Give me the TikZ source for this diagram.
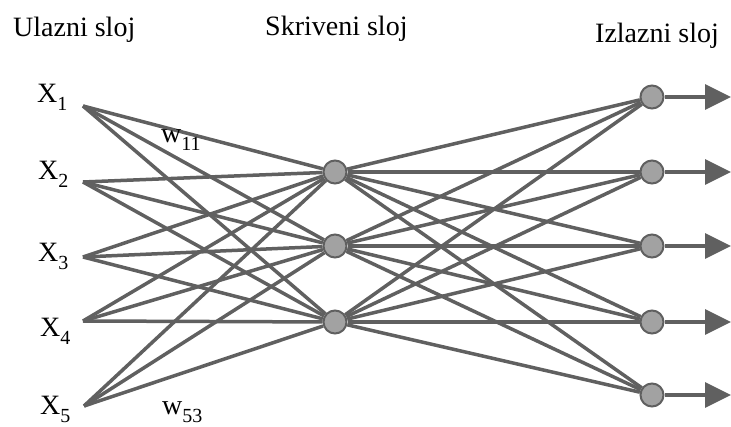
\documentclass[tikz,border=0pt]{standalone}
\usepackage{fontspec}
\setmainfont{Liberation Serif}
\usepackage{tikz}
\usetikzlibrary{arrows.meta}
\definecolor{linegray}{RGB}{96,96,96}
\definecolor{unitgray}{RGB}{162,162,162}
\tikzstyle{unit} = [circle, minimum size=23pt, inner sep=0pt, draw=linegray, line width=2pt, fill=unitgray]
\tikzstyle{link} = [line width=3.5pt, draw=linegray]
\tikzstyle{outarrow} = [line width=3.5pt, draw=linegray, fill=linegray, -{Triangle[length=26pt,width=25pt]}]
\tikzstyle{title} = [anchor=base west, inner sep=0pt, font=\fontsize{28}{30}\selectfont]
\tikzstyle{inlabel} = [anchor=base west, inner sep=0pt, font=\fontsize{28}{30}\selectfont]
\newcommand{\lowidx}[2]{#1\raisebox{-8pt}{\fontsize{20}{20}\selectfont #2}}

\begin{document}
\begin{tikzpicture}[x=1pt, y=-1pt]
        \useasboundingbox (0,0) rectangle (731,427);
        % titles
        \node (tin) [title] at (13,37) {Ulazni sloj};
        \node (thid) [title] at (265,36) {Skriveni sloj};
        \node (tout) [title] at (595,43) {Izlazni sloj};
        % inputs
        \coordinate (x1) at (83,106);
        \coordinate (x2) at (83,182);
        \coordinate (x3) at (83,257);
        \coordinate (x4) at (83,321);
        \coordinate (x5) at (84,406);
        \node (lx1) [inlabel] at (37,103) {\lowidx{X}{1}};
        \node (lx2) [inlabel] at (38,180) {\lowidx{X}{2}};
        \node (lx3) [inlabel] at (38,262) {\lowidx{X}{3}};
        \node (lx4) [inlabel] at (40,337) {\lowidx{X}{4}};
        \node (lx5) [inlabel] at (40,415) {\lowidx{X}{5}};
        % hidden layer
        \node (h1) [unit] at (335,172) {};
        \node (h2) [unit] at (335,246) {};
        \node (h3) [unit] at (335,322) {};
        % output layer
        \node (o1) [unit] at (652,97) {};
        \node (o2) [unit] at (652,172) {};
        \node (o3) [unit] at (652,246) {};
        \node (o4) [unit] at (652,322) {};
        \node (o5) [unit] at (652,395) {};
        \coordinate (e1) at (731,97);
        \coordinate (e2) at (731,172);
        \coordinate (e3) at (731,246);
        \coordinate (e4) at (731,322);
        \coordinate (e5) at (731,395);

        \draw [link] (x1) -- (h1);
        \draw [link] (x1) -- (h2);
        \draw [link] (x1) -- (h3);
        \draw [link] (x2) -- (h1);
        \draw [link] (x2) -- (h2);
        \draw [link] (x2) -- (h3);
        \draw [link] (x3) -- (h1);
        \draw [link] (x3) -- (h2);
        \draw [link] (x3) -- (h3);
        \draw [link] (x4) -- (h1);
        \draw [link] (x4) -- (h2);
        \draw [link] (x4) -- (h3);
        \draw [link] (x5) -- (h1);
        \draw [link] (x5) -- (h2);
        \draw [link] (x5) -- (h3);

        \draw [link] (h1) -- (o1);
        \draw [link] (h1) -- (o2);
        \draw [link] (h1) -- (o3);
        \draw [link] (h1) -- (o4);
        \draw [link] (h1) -- (o5);
        \draw [link] (h2) -- (o1);
        \draw [link] (h2) -- (o2);
        \draw [link] (h2) -- (o3);
        \draw [link] (h2) -- (o4);
        \draw [link] (h2) -- (o5);
        \draw [link] (h3) -- (o1);
        \draw [link] (h3) -- (o2);
        \draw [link] (h3) -- (o3);
        \draw [link] (h3) -- (o4);
        \draw [link] (h3) -- (o5);

        \draw [outarrow] (o1) -- (e1);
        \draw [outarrow] (o2) -- (e2);
        \draw [outarrow] (o3) -- (e3);
        \draw [outarrow] (o4) -- (e4);
        \draw [outarrow] (o5) -- (e5);

        % weights
        \node (w11) [inlabel] at (161,143) {\lowidx{w}{11}};
        \node (w53) [inlabel] at (162,415) {\lowidx{w}{53}};
    \end{tikzpicture}
\end{document}
